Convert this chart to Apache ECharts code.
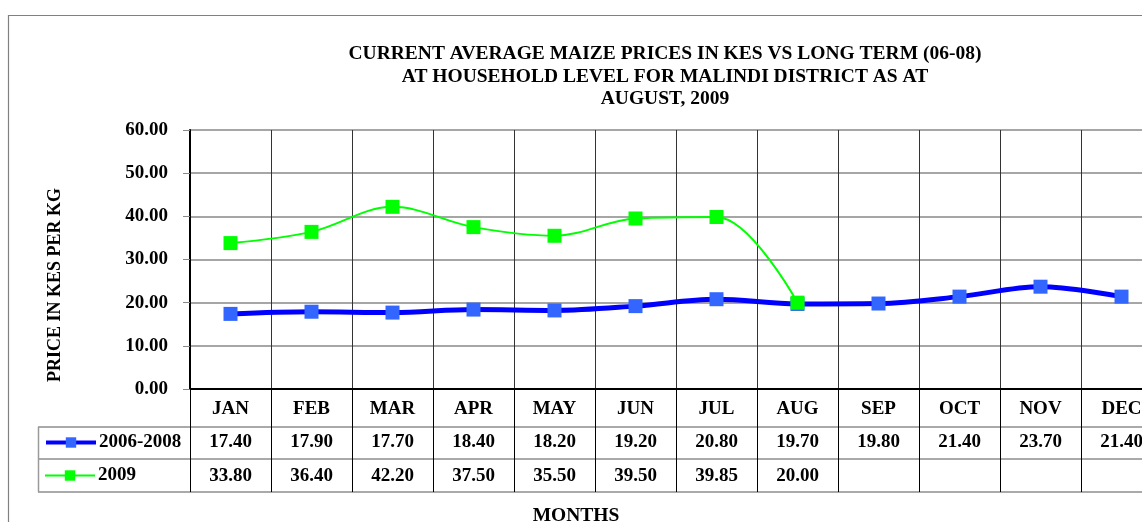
<!DOCTYPE html>
<html>
<head>
<meta charset="utf-8">
<script src="https://cdn.jsdelivr.net/npm/echarts@6/dist/echarts.min.js"></script>
<style>
  html, body { margin: 0; padding: 0; background: #fff; }
  #main_echarts { width: 1142px; height: 522px; }
</style>
</head>
<body>
<div id="main_echarts"></div>
<script>
// data
var months = ['JAN', 'FEB', 'MAR', 'APR', 'MAY', 'JUN', 'JUL', 'AUG', 'SEP', 'OCT', 'NOV', 'DEC'];
var longTerm = [17.40, 17.90, 17.70, 18.40, 18.20, 19.20, 20.80, 19.70, 19.80, 21.40, 23.70, 21.40];
var current = [33.80, 36.40, 42.20, 37.50, 35.50, 39.50, 39.85, 20.00, null, null, null, null];
var yTicks = [0, 10, 20, 30, 40, 50, 60];

var serif = 'Liberation Serif';
var plotLeft = 190, plotTop = 130, plotBottom = 389, colWidth = 81;
var rowEdges = [427, 459, 492];

function fmt(v) {
    return v == null ? '' : v.toFixed(2);
}

var myChart = echarts.init(document.getElementById('main_echarts'));

function tableAxis(values, margin) {
    return {
        type: 'category',
        gridIndex: 0,
        position: 'bottom',
        data: values.map(fmt),
        axisLine: {show: false},
        axisTick: {show: false},
        splitLine: {show: false},
        axisLabel: {
            interval: 0, margin: margin,
            fontFamily: serif, fontWeight: 'bold', fontSize: 19, color: '#000'
        }
    };
}

function legendRow(name, top, lineWidth) {
    return {
        orient: 'vertical',
        left: 44,
        top: top,
        padding: 0,
        itemWidth: 50,
        itemHeight: 13,
        lineStyle: {width: lineWidth},
        textStyle: {fontFamily: serif, fontWeight: 'bold', fontSize: 19, color: '#000', padding: [0, 0, 0, -2]},
        data: [name]
    };
}

var option = {
    animation: false,
    title: {
        text: 'CURRENT AVERAGE MAIZE PRICES IN KES VS LONG TERM (06-08)\nAT HOUSEHOLD LEVEL FOR MALINDI DISTRICT AS AT\nAUGUST, 2009',
        left: 660,
        top: 38,
        textAlign: 'center',
        textStyle: {fontFamily: serif, fontWeight: 'bold', fontSize: 19.5, lineHeight: 22.5, color: '#000'}
    },
    legend: [legendRow('2006-2008', 433, 4), legendRow('2009', 466, 2)],
    grid: {
        left: plotLeft, width: colWidth * months.length, top: plotTop, bottom: 522 - plotBottom,
        containLabel: false, outerBoundsMode: 'none'
    },
    xAxis: [{
        type: 'category',
        data: months,
        boundaryGap: true,
        axisLine: {lineStyle: {color: '#000', width: 2}},
        axisTick: {show: true, interval: 0, length: rowEdges[2] - plotBottom, lineStyle: {color: '#000', width: 1}},
        splitLine: {show: true, interval: 0, lineStyle: {color: '#333', width: 1}},
        axisLabel: {
            interval: 0, margin: 11,
            fontFamily: serif, fontWeight: 'bold', fontSize: 19, color: '#000'
        }
    }, tableAxis(longTerm, 44), tableAxis(current, 78)],
    yAxis: {
        type: 'value',
        min: yTicks[0],
        max: yTicks[yTicks.length - 1],
        interval: 10,
        axisLine: {show: true, lineStyle: {color: '#000', width: 2}},
        axisTick: {show: true, length: 7, lineStyle: {color: '#888'}},
        splitLine: {lineStyle: {color: '#888', width: 1.5}},
        axisLabel: {
            margin: 22,
            formatter: function (v) { return v.toFixed(2); },
            fontFamily: serif, fontWeight: 'bold', fontSize: 19, color: '#000'
        }
    },
    graphic: [
        // chart frame
        {type: 'rect', shape: {x: 8.5, y: 15.5, width: 1300, height: 700}, style: {fill: null, stroke: '#808080', lineWidth: 1.2}, silent: true},
        // data table rules
        {type: 'line', shape: {x1: 38, y1: rowEdges[0], x2: 1142, y2: rowEdges[0]}, style: {stroke: '#555', lineWidth: 1}},
        {type: 'line', shape: {x1: 38, y1: rowEdges[1], x2: 1142, y2: rowEdges[1]}, style: {stroke: '#555', lineWidth: 1}},
        {type: 'line', shape: {x1: 38, y1: rowEdges[2], x2: 1142, y2: rowEdges[2]}, style: {stroke: '#555', lineWidth: 1}},
        {type: 'line', shape: {x1: 38.5, y1: rowEdges[0], x2: 38.5, y2: rowEdges[2]}, style: {stroke: '#999', lineWidth: 1.5}},
        {type: 'text', x: 55, y: 285, rotation: Math.PI / 2,
            style: {text: 'PRICE IN KES PER KG', fontFamily: serif, fontWeight: 'bold', fontSize: 18, fill: '#000', align: 'center', verticalAlign: 'middle'}},
        {type: 'text', x: 576, y: 516,
            style: {text: 'MONTHS', fontFamily: serif, fontWeight: 'bold', fontSize: 19.5, fill: '#000', align: 'center', verticalAlign: 'middle'}}
    ],
    series: [{
        name: '2006-2008',
        type: 'line',
        data: longTerm,
        smooth: 0.35,
        symbol: 'rect',
        symbolSize: 14,
        itemStyle: {color: '#3366ff'},
        lineStyle: {color: '#0000ff', width: 5},
        z: 3
    }, {
        name: '2009',
        type: 'line',
        data: current,
        smooth: 0.35,
        symbol: 'rect',
        symbolSize: 14,
        itemStyle: {color: '#00ff00'},
        lineStyle: {color: '#00ff00', width: 2},
        z: 4
    }]
};
myChart.setOption(option);
window.onresize = myChart.resize;
</script>
</body>
</html>
